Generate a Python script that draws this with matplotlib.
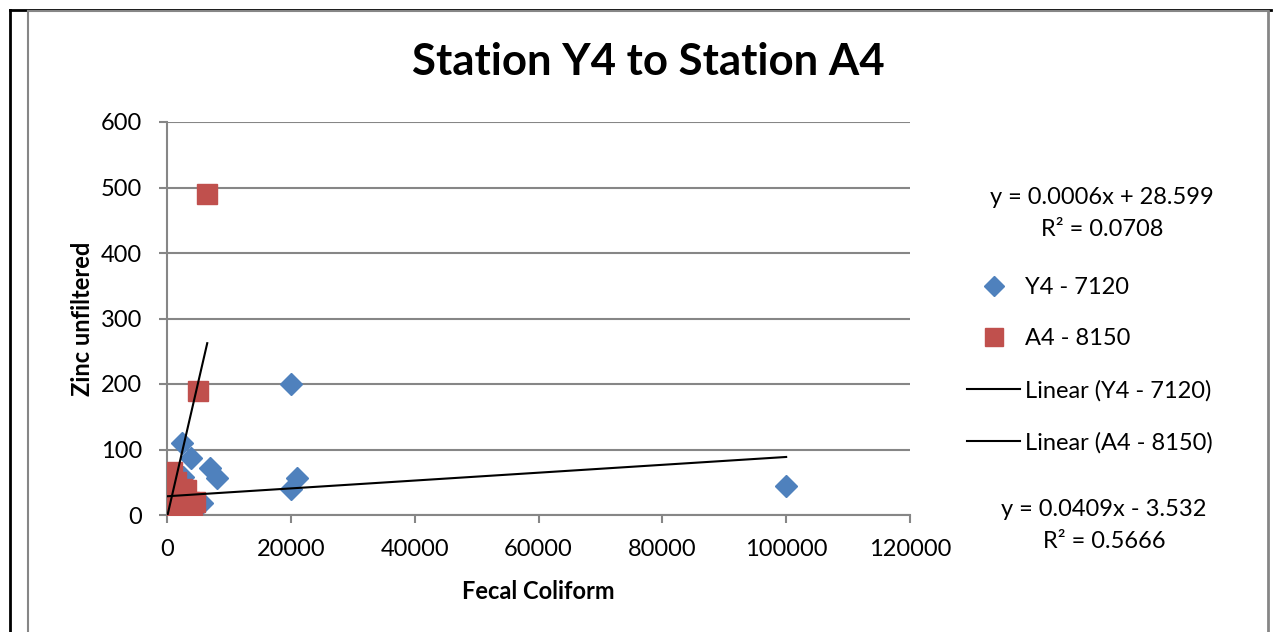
import matplotlib
matplotlib.use("Agg")
import matplotlib.pyplot as plt
from matplotlib.lines import Line2D
import numpy as np

plt.rcParams['font.family'] = ['Lato', 'DejaVu Sans']

# ---- data ----
y4_x = [100, 200, 300, 500, 800, 1500, 2500, 2600, 3900, 5600, 7000, 8100,
        20000, 20000, 21000, 100000]
y4_y = [5, 25, 10, 20, 30, 15, 110, 58, 87, 19, 71, 56,
        200, 40, 56, 45]
a4_x = [100, 200, 200, 300, 400, 500, 600, 800, 1000, 1200, 1500, 2000,
        2500, 2800, 3000, 3500, 4000, 4500, 5000, 6500]
a4_y = [5, 10, 2, 45, 25, 60, 15, 65, 30, 20, 50, 35,
        40, 12, 38, 20, 15, 20, 190, 490]
y4_fit = [0.0006, 28.599]
a4_fit = [0.0409, -3.532]
y4_label = "Y4 - 7120"
a4_label = "A4 - 8150"
title = "Station Y4 to Station A4"
xlabel = "Fecal Coliform"
ylabel = "Zinc unfiltered"
xticks = [0, 20000, 40000, 60000, 80000, 100000, 120000]
yticks = [0, 100, 200, 300, 400, 500, 600]

W, H = 1275, 632
fig = plt.figure(figsize=(W / 100, H / 100), dpi=100)
ax = fig.add_axes([167 / W, 1 - 515 / H, (910 - 167) / W, (515 - 122) / H])

BLUE = "#4F81BD"
RED = "#C0504D"
GRAY = "#868686"
FS = 17

ax.plot(y4_x, y4_y, linestyle='none', marker='D', ms=11.5, color=BLUE,
        markeredgecolor=BLUE, label=y4_label, zorder=3)
ax.plot(a4_x, a4_y, linestyle='none', marker='s', ms=14, color=RED,
        markeredgecolor=RED, label=a4_label, zorder=4)

xr = np.array([min(y4_x), max(y4_x)])
ax.plot(xr, y4_fit[0] * xr + y4_fit[1], color='black', lw=1.5, zorder=5)
xr2 = np.array([min(a4_x), max(a4_x)])
ax.plot(xr2, a4_fit[0] * xr2 + a4_fit[1], color='black', lw=1.5, zorder=5)

ax.set_xlim(xticks[0], xticks[-1])
ax.set_ylim(yticks[0], yticks[-1])
ax.set_xticks(xticks)
ax.set_yticks(yticks)
ax.set_xticklabels([str(t) for t in xticks])
ax.set_yticklabels([str(t) for t in yticks])
ax.grid(axis='y', color=GRAY, lw=1.5)
ax.set_axisbelow(True)
for s in ['top', 'right']:
    ax.spines[s].set_visible(False)
for s in ['left', 'bottom']:
    ax.spines[s].set_color(GRAY)
    ax.spines[s].set_linewidth(1.5)
ax.tick_params(axis='both', colors=GRAY, labelcolor='black', labelsize=FS,
               length=6, width=1.5, direction='out')
ax.tick_params(axis='x', pad=11)
ax.tick_params(axis='y', pad=12)

ax.set_xlabel(xlabel, fontsize=FS, fontweight='bold', labelpad=15)
ax.set_ylabel(ylabel, fontsize=FS, fontweight='bold', labelpad=5)
fig.text(648 / W, 1 - 62 / H, title, fontsize=31.5, fontweight='bold',
         ha='center', va='center')

# equations
fig.text(1102 / W, 1 - 198 / H, "y = 0.0006x + 28.599", fontsize=FS,
         ha='center', va='center')
fig.text(1102 / W, 1 - 230 / H, "R² = 0.0708", fontsize=FS,
         ha='center', va='center')
fig.text(1104 / W, 1 - 510 / H, "y = 0.0409x - 3.532", fontsize=FS,
         ha='center', va='center')
fig.text(1104 / W, 1 - 541 / H, "R² = 0.5666", fontsize=FS,
         ha='center', va='center')

handles = [
    Line2D([], [], linestyle='none', marker='D', ms=10, color=BLUE),
    Line2D([], [], linestyle='none', marker='s', ms=13, color=RED),
    Line2D([], [], color='black', lw=1.5),
    Line2D([], [], color='black', lw=1.5),
]
labels = [y4_label, a4_label, "Linear (" + y4_label + ")", "Linear (" + a4_label + ")"]
fig.legend(handles, labels, loc='upper left', bbox_to_anchor=(967 / W, 1 - 277 / H),
           frameon=False, fontsize=FS, labelspacing=1.29, handlelength=2.25,
           handletextpad=0.2, borderpad=0, borderaxespad=0)

# page/frame borders
fig.add_artist(Line2D([10 / W, 10 / W], [0, 1 - 10 / H], color='black', lw=2))
fig.add_artist(Line2D([10 / W, 1271 / W], [1 - 10 / H, 1 - 10 / H], color='black', lw=2))
fig.add_artist(Line2D([28 / W, 28 / W], [0, 1 - 11 / H], color=GRAY, lw=1.5))
fig.add_artist(Line2D([28 / W, 1268 / W], [1 - 11 / H, 1 - 11 / H], color=GRAY, lw=1.5))
fig.add_artist(Line2D([1268 / W, 1268 / W], [0, 1 - 11 / H], color=GRAY, lw=2))

fig.savefig("out.png", dpi=100)
